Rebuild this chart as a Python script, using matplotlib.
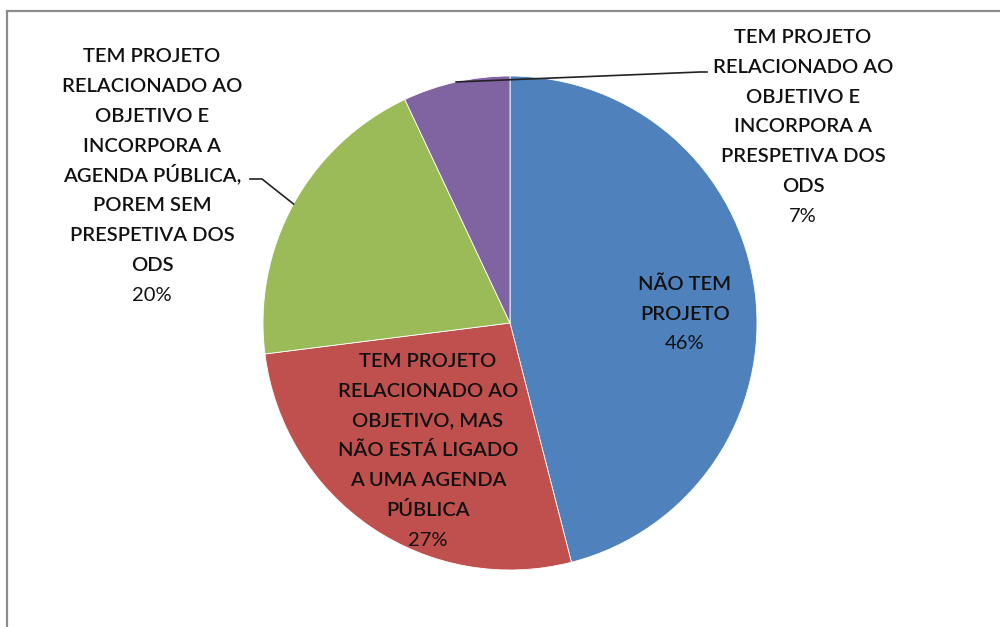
import numpy as np
import matplotlib
matplotlib.use("Agg")
import matplotlib.pyplot as plt
from matplotlib.patches import Rectangle
from matplotlib import font_manager

# data
labels = [
    "NÃO TEM\nPROJETO",
    "TEM PROJETO\nRELACIONADO AO\nOBJETIVO, MAS\nNÃO ESTÁ LIGADO\nA UMA AGENDA\nPÚBLICA",
    "TEM PROJETO\nRELACIONADO AO\nOBJETIVO E\nINCORPORA A\nAGENDA PÚBLICA,\nPOREM SEM\nPRESPETIVA DOS\nODS",
    "TEM PROJETO\nRELACIONADO AO\nOBJETIVO E\nINCORPORA A\nPRESPETIVA DOS\nODS",
]
values = [46, 27, 20, 7]
colors = ["#4F81BD", "#C0504D", "#9BBB59", "#8064A2"]

names = {f.name for f in font_manager.fontManager.ttflist}
font = "Liberation Sans Narrow" if "Liberation Sans Narrow" in names else "Lato"
plt.rcParams["font.family"] = [font, "DejaVu Sans"]

fig = plt.figure(figsize=(10, 6.27), dpi=100)
fig.patch.set_facecolor("white")

# chart frame (cut off at right and bottom)
fig.patches.append(Rectangle((7 / 1000, -0.2), 1.2, 1.2 - 11 / 627,
                             transform=fig.transFigure, fill=False,
                             edgecolor="#8c8c8c", linewidth=1.6))

R = 247
cx, cy = 510, 323
ax = fig.add_axes([(cx - R) / 1000, (627 - cy - R) / 627, 2 * R / 1000, 2 * R / 627])
ax.pie(values, colors=colors, startangle=90, counterclock=False, radius=1,
       wedgeprops=dict(edgecolor="white", linewidth=0.6))
ax.set_xlim(-1, 1)
ax.set_ylim(-1, 1)
ax.set_aspect("auto")
ax.axis("off")


def px(x, y):
    return (x - cx) / R, (cy - y) / R


def edge_point(i):
    start = sum(values[:i])
    mid = (start + values[i] / 2) / sum(values)
    ang = np.deg2rad(90 - 360 * mid)
    return np.cos(ang), np.sin(ang)


fs = 14.5
step = 29.8
# label block centres (pixels)
centres = [(685, 312), (428, 449), (152, 174), (803, 125)]
for lab, v, (lx, ly) in zip(labels, values, centres):
    lines = lab.split("\n")
    n = len(lines) + 1
    top = ly - step * (n - 1) / 2
    for k, line in enumerate(lines):
        x, y = px(lx, top + k * step + 7.5)
        ax.text(x, y, line, ha="center", va="baseline", fontsize=fs,
                fontweight="semibold", color="#111111", clip_on=False)
    x, y = px(lx, top + (n - 1) * step + 7.5)
    ax.text(x, y, f"{v}%", ha="center", va="baseline", fontsize=fs,
            color="#111111", clip_on=False)

# leader lines
ex, ey = edge_point(2)
p1 = px(262, 179)
p2 = px(250, 179)
ax.plot([ex, p1[0], p2[0]], [ey, p1[1], p2[1]], color="#222222", lw=1.2, clip_on=False)
ex, ey = edge_point(3)
p1 = px(700, 72)
p2 = px(707, 72)
ax.plot([ex, p1[0], p2[0]], [ey, p1[1], p2[1]], color="#222222", lw=1.2, clip_on=False)

fig.savefig("out.png", dpi=100)
